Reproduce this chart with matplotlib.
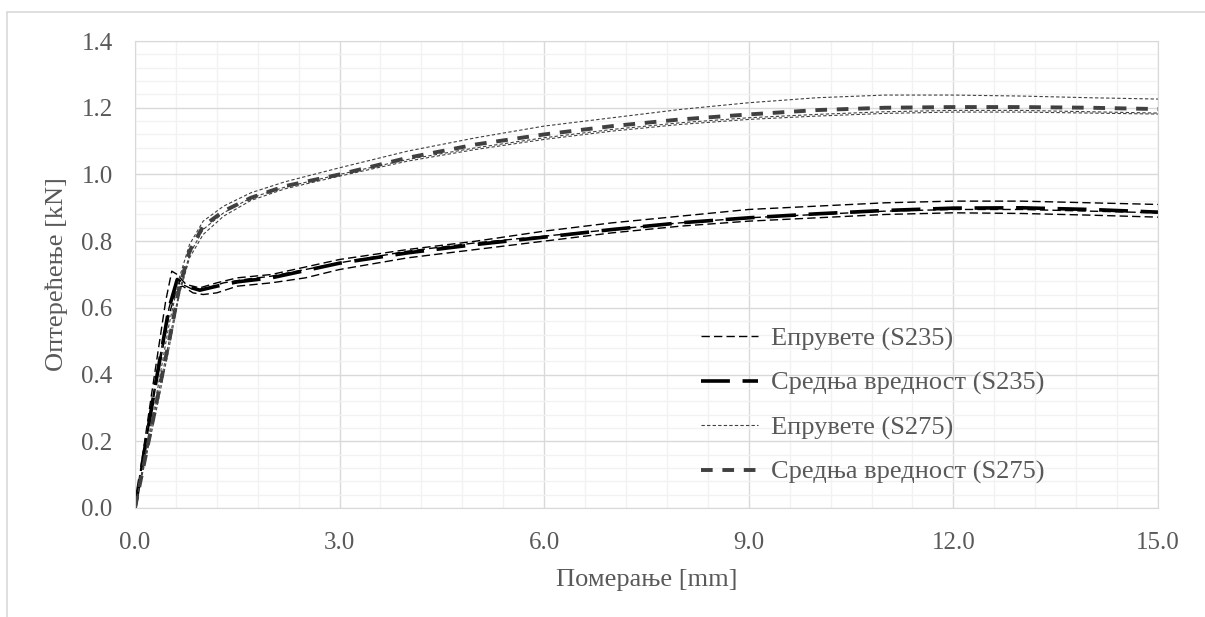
import numpy as np
import matplotlib
matplotlib.use("Agg")
import matplotlib.pyplot as plt
from matplotlib.ticker import MultipleLocator
from matplotlib.patches import Rectangle

plt.rcParams['font.family'] = ['Liberation Serif', 'DejaVu Serif']

# S235 specimens
x_a = [0, 0.25, 0.45, 0.54, 0.62, 0.75, 0.95, 1.2, 1.5, 2.0, 3.0, 4.0, 5.0, 6.0, 7.0, 8.0, 9.0, 10.0, 11.0, 12.0, 13.0, 14.0, 15.0]
y_a = [0, 0.35, 0.62, 0.71, 0.70, 0.67, 0.66, 0.675, 0.69, 0.70, 0.745, 0.775, 0.80, 0.83, 0.855, 0.875, 0.895, 0.905, 0.915, 0.92, 0.92, 0.915, 0.91]
x_b = [0, 0.3, 0.5, 0.62, 0.7, 0.85, 1.0, 1.2, 1.5, 2.0, 2.5, 3.0, 4.0, 5.0, 6.0, 7.0, 8.0, 9.0, 10.0, 11.0, 12.0, 13.0, 14.0, 15.0]
y_b = [0, 0.36, 0.58, 0.66, 0.665, 0.645, 0.64, 0.645, 0.665, 0.675, 0.69, 0.715, 0.75, 0.775, 0.80, 0.825, 0.845, 0.86, 0.87, 0.88, 0.885, 0.883, 0.878, 0.872]
x_c = [0, 0.3, 0.5, 0.6, 0.7, 0.85, 1.0, 1.3, 1.6, 2.0, 3.0, 4.0, 5.0, 6.0, 7.0, 8.0, 9.0, 10.0, 11.0, 12.0, 13.0, 14.0, 15.0]
y_c = [0, 0.38, 0.6, 0.675, 0.67, 0.655, 0.655, 0.675, 0.685, 0.695, 0.735, 0.77, 0.795, 0.815, 0.835, 0.855, 0.87, 0.88, 0.89, 0.895, 0.895, 0.89, 0.885]
# S235 mean
x_m235 = [0, 0.3, 0.5, 0.62, 0.75, 0.95, 1.2, 1.5, 2.0, 3.0, 4.0, 5.0, 6.0, 7.0, 8.0, 9.0, 10.0, 11.0, 12.0, 13.0, 14.0, 15.0]
y_m235 = [0, 0.37, 0.6, 0.685, 0.665, 0.653, 0.665, 0.678, 0.69, 0.734, 0.765, 0.79, 0.812, 0.835, 0.855, 0.87, 0.882, 0.892, 0.899, 0.9, 0.895, 0.887]

# S275 specimens and mean (same x points)
x_275 = [0, 0.3, 0.5, 0.65, 0.8, 1.0, 1.3, 1.7, 2.2, 3.0, 4.0, 5.0, 6.0, 7.0, 8.0, 9.0, 10.0, 11.0, 12.0, 13.0, 14.0, 15.0]
y_d = [0, 0.32, 0.55, 0.69, 0.79, 0.86, 0.905, 0.945, 0.978, 1.02, 1.07, 1.11, 1.145, 1.17, 1.195, 1.215, 1.23, 1.238, 1.238, 1.235, 1.23, 1.226]
y_e = [0, 0.28, 0.48, 0.64, 0.75, 0.82, 0.875, 0.922, 0.957, 0.995, 1.04, 1.075, 1.105, 1.13, 1.15, 1.165, 1.175, 1.183, 1.187, 1.187, 1.184, 1.181]
y_f = [0, 0.3, 0.5, 0.65, 0.76, 0.835, 0.885, 0.93, 0.962, 1.0, 1.045, 1.08, 1.11, 1.135, 1.155, 1.17, 1.18, 1.188, 1.192, 1.192, 1.188, 1.184]
y_m275 = [0, 0.3, 0.5, 0.66, 0.77, 0.845, 0.89, 0.93, 0.965, 1.0, 1.05, 1.09, 1.12, 1.145, 1.165, 1.18, 1.193, 1.2, 1.202, 1.202, 1.2, 1.196]

labels = ["Епрувете (S235)", "Средња вредност (S235)", "Епрувете (S275)", "Средња вредност (S275)"]

grey_txt = "#595959"
fig = plt.figure(figsize=(12.05, 6.17), dpi=100)
ax = fig.add_axes([0.112, 0.1767, 0.849, 0.7568])

# S235
ax.plot(x_a, y_a, color="black", lw=1.0, dashes=(6, 3), label=labels[0])
ax.plot(x_b, y_b, color="black", lw=1.0, dashes=(6, 3))
ax.plot(x_c, y_c, color="black", lw=1.0, dashes=(6, 3))
ax.plot(x_m235, y_m235, color="black", lw=2.6, dashes=(8, 3.5), label=labels[1])
# S275
ax.plot(x_275, y_d, color="#404040", lw=0.8, dashes=(3, 2), label=labels[2])
ax.plot(x_275, y_e, color="#404040", lw=0.8, dashes=(3, 2))
ax.plot(x_275, y_f, color="#404040", lw=0.8, dashes=(3, 2))
ax.plot(x_275, y_m275, color="#404040", lw=2.8, dashes=(3, 2.5), label=labels[3])

ax.set_xlim(0, 15)
ax.set_ylim(0, 1.4)
ax.xaxis.set_major_locator(MultipleLocator(3))
ax.xaxis.set_minor_locator(MultipleLocator(0.6))
ax.yaxis.set_major_locator(MultipleLocator(0.2))
ax.yaxis.set_minor_locator(MultipleLocator(0.04))
ax.xaxis.set_major_formatter(plt.FormatStrFormatter("%.1f"))
ax.yaxis.set_major_formatter(plt.FormatStrFormatter("%.1f"))
ax.grid(which="major", color="#d9d9d9", lw=1.0)
ax.grid(which="minor", color="#f2f2f2", lw=1.0)
ax.set_axisbelow(True)
for s in ax.spines.values():
    s.set_color("#d9d9d9")
ax.tick_params(which="both", length=0, labelsize=18, labelcolor=grey_txt)
ax.tick_params(axis="x", pad=17)
ax.tick_params(axis="y", pad=16)

ax.set_xlabel("Померање [mm]", fontsize=19, color=grey_txt, labelpad=11)
ax.set_ylabel("Оптерећење [kN]", fontsize=19, color=grey_txt, labelpad=10)

leg = ax.legend(loc="upper left", bbox_to_anchor=(0.543, 0.41), frameon=False,
                fontsize=19, handlelength=2.16, handletextpad=0.5, labelspacing=0.78,
                borderaxespad=0)
for t in leg.get_texts():
    t.set_color(grey_txt)

fig.patches.append(Rectangle((7 / 1205, -0.1), 1.2, (617 - 12) / 617 + 0.1,
                             transform=fig.transFigure, fill=False,
                             edgecolor="#d9d9d9", lw=1.2))

fig.savefig("out.png", dpi=100)
